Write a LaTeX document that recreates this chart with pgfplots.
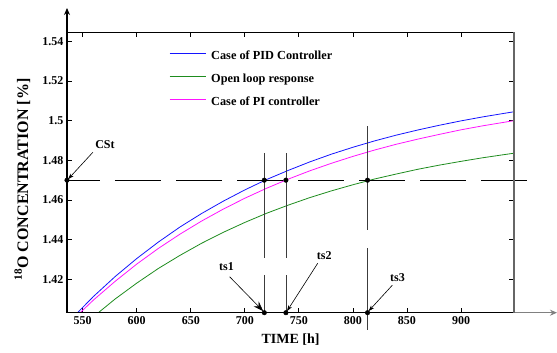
\documentclass[border=0pt]{standalone}
\usepackage{fontspec}
\setmainfont{Liberation Serif}
\usepackage{pgfplots}
\pgfplotsset{compat=1.18}
\usetikzlibrary{arrows.meta}

\definecolor{pidblue}{RGB}{20,20,255}
\definecolor{olgreen}{RGB}{30,140,30}
\definecolor{pimag}{RGB}{255,20,255}
\definecolor{vgray}{RGB}{60,60,60}

\begin{document}
\begin{tikzpicture}
\begin{axis}[name=ax, scale only axis, width=447pt, height=280.7pt,
  xmin=535.5, xmax=949, ymin=1.4032, ymax=1.5447,
  xtick={550,600,650,700,750,800,850,900},
  ytick={1.42,1.44,1.46,1.48,1.5,1.52,1.54},
  clip mode=individual,
  axis line style={line width=0.8pt},
  tick style={black, line width=0.8pt},
  major tick length=5pt,
  tick label style={font=\bfseries\fontsize{12}{13}\selectfont},
  /pgf/number format/assume math mode=true,
  yticklabel style={/pgf/number format/fixed,/pgf/number format/precision=2},
  xticklabel style={/pgf/number format/fixed,/pgf/number format/1000 sep={}},
  xlabel={TIME [h]},
  ylabel={\textsuperscript{18}O CONCENTRATION [\%]},
  xlabel style={font=\bfseries\fontsize{14}{16}\selectfont, at={(axis description cs:0.5,-0.0973)}, anchor=center},
  ylabel style={font=\bfseries\fontsize{16}{18}\selectfont, at={(axis description cs:-0.1,0.475)}, anchor=center},
  legend style={at={(rel axis cs:0.228,0.936)}, anchor=north west, draw=none, fill=none,
    inner sep=0pt, row sep=11pt, column sep=5pt,
    font=\bfseries\fontsize{12.3}{14}\selectfont,
    nodes={inner sep=0pt, text height=9pt, text depth=3pt}},
  legend cell align=left,
  legend image code/.code={\draw[#1, line width=1.1pt] (0pt,3pt) -- (36pt,3pt);},
]
\addplot[pidblue, line width=0.8pt] coordinates {
(540,1.4003) (560,1.4114) (580,1.4214) (600,1.4305) (620,1.4388) (640,1.4464)
(660,1.4532) (680,1.4594) (700,1.4651) (720,1.4703) (740,1.4749) (760,1.4792)
(780,1.4831) (800,1.4866) (820,1.4898) (840,1.4927) (860,1.4953) (880,1.4977)
(900,1.4999) (920,1.5019) (940,1.5037) (949,1.5045)};
\addlegendentry{Case of PID Controller}
\addplot[olgreen, line width=0.8pt] coordinates {
(560,1.4012) (580,1.4101) (600,1.4181) (620,1.4255) (640,1.4321) (660,1.4382)
(680,1.4437) (700,1.4487) (720,1.4533) (740,1.4574) (760,1.4612) (780,1.4646)
(800,1.4677) (820,1.4706) (840,1.4731) (860,1.4755) (880,1.4776) (900,1.4795)
(920,1.4813) (940,1.4829) (949,1.4836)};
\addlegendentry{Open loop response}
\addplot[pimag, line width=0.8pt] coordinates {
(540,1.3992) (560,1.4096) (580,1.4190) (600,1.4277) (620,1.4356) (640,1.4428)
(660,1.4494) (680,1.4554) (700,1.4609) (720,1.4659) (740,1.4705) (760,1.4747)
(780,1.4785) (800,1.4820) (820,1.4852) (840,1.4881) (860,1.4907) (880,1.4931)
(900,1.4954) (920,1.4974) (940,1.4992) (949,1.5000)};
\addlegendentry{Case of PI controller}

% reference lines
\draw[black, line width=0.8pt, dash pattern=on 46pt off 15pt, dash phase=13pt] (535.5,1.47) -- (962.6,1.47);
\draw[vgray, line width=0.7pt, dash pattern=on 105pt off 17pt] (718,1.4838) -- (718,1.4032);
\draw[vgray, line width=0.7pt, dash pattern=on 105pt off 17pt] (738,1.4836) -- (738,1.4032);
\draw[vgray, line width=0.7pt, dash pattern=on 104pt off 18pt] (813.5,1.4972) -- (813.5,1.3945);

\addplot[only marks, mark=*, mark size=2.3pt, black, forget plot] coordinates {
(535.5,1.47) (718,1.47) (738,1.47) (813.5,1.47)
(718,1.4032) (738,1.4032) (813.5,1.4032)};

% annotations
\node[font=\bfseries\fontsize{12}{14}\selectfont] at (570.6,1.4877) {CSt};
\draw[-{Stealth[length=6pt,width=4pt]}, line width=0.6pt] (559.5,1.4841) -- (536.5,1.4705);
\node[font=\bfseries\fontsize{12}{14}\selectfont] at (683.1,1.4263) {ts1};
\draw[-{Stealth[length=10pt,width=7pt]}, line width=0.6pt] (686.0,1.4213) -- (717,1.4040);
\node[font=\bfseries\fontsize{12}{14}\selectfont] at (773.5,1.4322) {ts2};
\draw[-{Stealth[length=6pt,width=4pt]}, line width=0.6pt] (767.4,1.4281) -- (739,1.4040);
\node[font=\bfseries\fontsize{12}{14}\selectfont] at (841.3,1.4207) {ts3};
\draw[-{Stealth[length=6pt,width=4pt]}, line width=0.6pt] (836.5,1.4171) -- (814.5,1.4040);
\end{axis}
% heavier axis lines with arrows
\draw[line width=1.5pt, -{Stealth[length=7pt,width=6pt]}] (ax.south west) -- ([yshift=24pt]ax.north west);
\draw[line width=1.5pt] (ax.south west) -- (ax.south east);
\draw[line width=1.5pt, gray, -{Stealth[length=7pt,width=6pt]}] (ax.south east) -- ([xshift=43pt]ax.south east);
\draw[line width=1.5pt, gray!80!black] (ax.south east) -- (ax.north east);
\pgfresetboundingbox
\path ([xshift=-67pt,yshift=-39.3pt]ax.south west) rectangle ([xshift=43pt,yshift=32pt]ax.north east);
\end{tikzpicture}
\end{document}
